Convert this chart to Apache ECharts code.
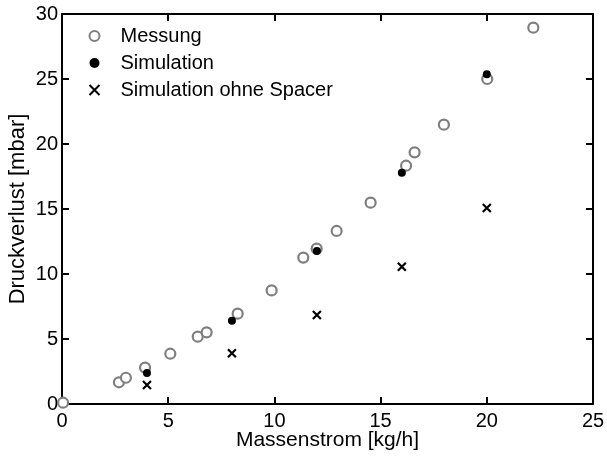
<!DOCTYPE html>
<html>
<head>
<meta charset="utf-8">
<script src="https://cdn.jsdelivr.net/npm/echarts@6/dist/echarts.min.js"></script>
<style>
  html, body { margin: 0; padding: 0; background: #fff; }
  #chart { width: 607px; height: 458px; }
</style>
</head>
<body>
<div id="chart"></div>
<script>
// Measured pressure drop vs. mass flow
const messungX = [0.05, 2.68, 3.01, 3.91, 5.10, 6.39, 6.81, 8.27, 9.87, 11.36, 11.99, 12.93, 14.53, 16.20, 16.60, 17.98, 20.02, 22.19];
const messungY = [0.1, 1.67, 2.02, 2.80, 3.87, 5.18, 5.51, 6.95, 8.74, 11.26, 11.95, 13.31, 15.49, 18.33, 19.36, 21.49, 25.0, 28.95];

// Simulation with spacer
const simX = [4, 8, 12, 16, 20];
const simY = [2.38, 6.41, 11.77, 17.79, 25.36];

// Simulation without spacer
const simOhneX = [4, 8, 12, 16, 20];
const simOhneY = [1.46, 3.90, 6.85, 10.56, 15.08];

const seriesNames = ['Messung', 'Simulation', 'Simulation ohne Spacer'];
const xTicks = [0, 5, 10, 15, 20, 25];
const yTicks = [0, 5, 10, 15, 20, 25, 30];

const pairs = (xs, ys) => xs.map((x, i) => [x, ys[i]]);
const FONT = 'Liberation Sans, Arial, sans-serif';
const crossPath = 'path://M0,0L10,10M10,0L0,10';

const chart = echarts.init(document.getElementById('chart'), null, { renderer: 'canvas' });

const baseAxis = {
  min: 0,
  interval: 5,
  axisLine: { show: true, onZero: false, lineStyle: { color: '#000', width: 2 } },
  axisTick: { show: true, inside: true, length: 7, lineStyle: { color: '#000', width: 2 } },
  splitLine: { show: false },
  axisLabel: { color: '#000', fontFamily: FONT, fontSize: 20 }
};

chart.setOption({
  animation: false,
  backgroundColor: '#fff',
  grid: { left: 62, top: 14, width: 531, height: 390, containLabel: false, outerBoundsMode: 'none' },
  legend: {
    orient: 'vertical',
    left: 82,
    top: 21,
    itemWidth: 42,
    itemHeight: 10,
    itemGap: 7,
    symbolKeepAspect: true,
    textStyle: { color: '#000', fontFamily: FONT, fontSize: 20 },
    data: seriesNames
  },
  xAxis: [
    Object.assign({}, baseAxis, {
      type: 'value', position: 'bottom', max: xTicks[xTicks.length - 1],
      name: 'Massenstrom [kg/h]', nameLocation: 'middle', nameGap: 26, nameMoveOverlap: false,
      nameTextStyle: { color: '#000', fontFamily: FONT, fontSize: 21 },
      axisLabel: { color: '#000', fontFamily: FONT, fontSize: 20, margin: 7 }
    }),
    Object.assign({}, baseAxis, {
      type: 'value', position: 'top', max: xTicks[xTicks.length - 1],
      axisLabel: { show: false }
    })
  ],
  yAxis: [
    Object.assign({}, baseAxis, {
      type: 'value', position: 'left', max: yTicks[yTicks.length - 1],
      name: 'Druckverlust [mbar]', nameLocation: 'middle', nameGap: 33, nameMoveOverlap: false,
      nameTextStyle: { color: '#000', fontFamily: FONT, fontSize: 22 },
      axisLabel: { color: '#000', fontFamily: FONT, fontSize: 20, margin: 4 }
    }),
    Object.assign({}, baseAxis, {
      type: 'value', position: 'right', max: yTicks[yTicks.length - 1],
      axisLabel: { show: false }
    })
  ],
  series: [
    {
      name: seriesNames[0],
      type: 'scatter',
      symbol: 'circle',
      symbolSize: 10,
      itemStyle: { color: '#fff', borderColor: '#7f7f7f', borderWidth: 2.2, opacity: 1 },
      data: pairs(messungX, messungY),
      z: 2
    },
    {
      name: seriesNames[1],
      type: 'scatter',
      symbol: 'circle',
      symbolSize: 8,
      itemStyle: { color: '#000', borderColor: '#000', borderWidth: 0, opacity: 1 },
      data: pairs(simX, simY),
      z: 3
    },
    {
      name: seriesNames[2],
      type: 'scatter',
      symbol: crossPath,
      symbolSize: 8,
      itemStyle: { color: 'none', borderColor: '#000', borderWidth: 2.2, opacity: 1 },
      data: pairs(simOhneX, simOhneY),
      z: 3
    }
  ]
});
</script>
</body>
</html>
